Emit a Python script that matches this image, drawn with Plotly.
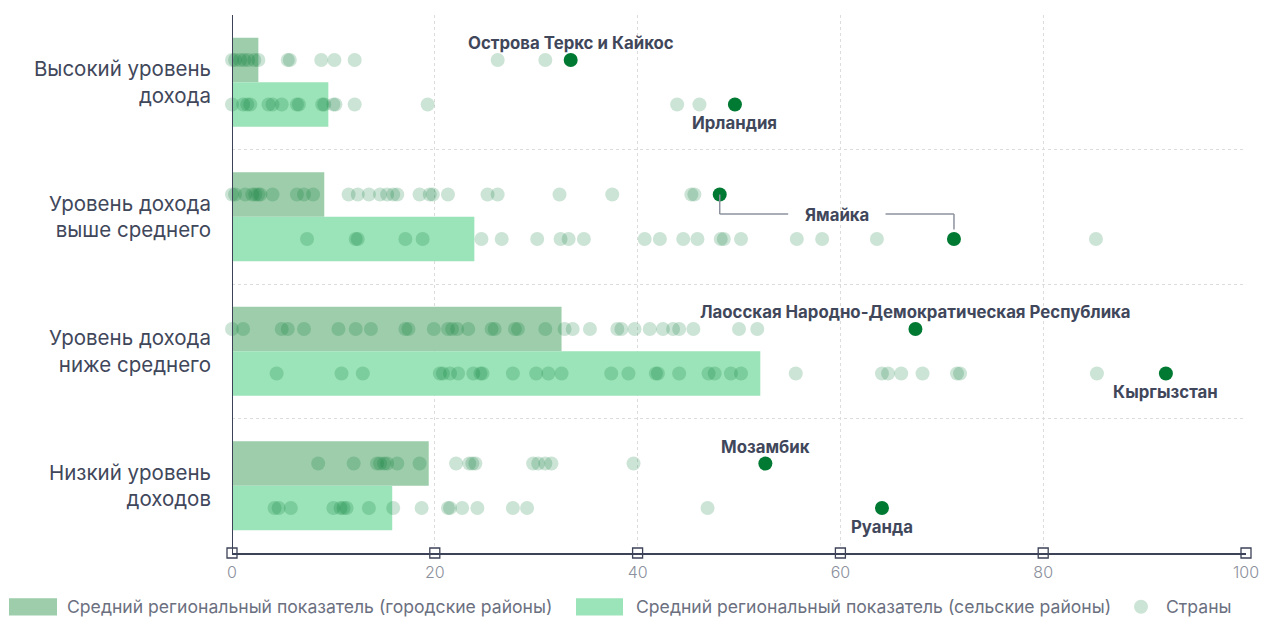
import plotly.graph_objects as go

# Income groups, top to bottom
categories = [
    "Высокий уровень<br>дохода",
    "Уровень дохода<br>выше среднего",
    "Уровень дохода<br>ниже среднего",
    "Низкий уровень<br>доходов",
]

# Regional averages, %
urban_avg = [2.6, 9.1, 32.5, 19.4]
rural_avg = [9.5, 23.9, 52.1, 15.8]

# Individual countries, %
high_urban = [0, 0.3, 0.8, 1.2, 1.6, 2.2, 2.6, 5.5, 5.7, 8.8, 10.1, 12.1, 26.2, 30.9]
high_rural = [0, 1.1, 1.5, 1.8, 3.6, 4.0, 4.9, 6.4, 6.6, 8.9, 9.1, 10.0, 10.2, 12.1, 19.3, 43.9, 46.1]
umc_urban = [0, 0.3, 1.3, 2.0, 2.3, 2.6, 2.8, 4.0, 6.4, 7.1, 8.0, 11.5, 12.4, 13.5, 14.6, 15.3,
             15.9, 16.3, 18.5, 19.5, 19.8, 21.3, 25.2, 26.2, 32.3, 37.5, 45.3, 45.6]
umc_rural = [7.4, 12.2, 12.4, 17.1, 18.8, 24.6, 26.6, 30.1, 32.4, 33.2, 34.7, 40.7, 42.2, 44.5,
             45.9, 48.2, 48.5, 50.2, 55.7, 58.2, 63.6, 85.2]
lmc_urban = [0, 1.1, 4.9, 5.5, 7.1, 10.5, 12.2, 13.7, 17.1, 17.4, 19.9, 21.3, 21.7, 22.2, 23.3,
             25.6, 25.9, 27.9, 28.2, 30.9, 32.8, 33.6, 35.3, 38.0, 38.4, 39.7, 41.2, 42.5, 43.5,
             44.1, 45.5, 50.0, 51.8]
lmc_rural = [4.4, 10.8, 12.9, 20.5, 20.8, 21.5, 22.3, 23.8, 24.5, 24.7, 27.7, 30.0, 31.2, 32.5,
             37.4, 39.1, 41.8, 42.0, 44.1, 47.0, 47.6, 49.2, 50.2, 55.6, 64.1, 64.7, 66.0, 68.1,
             71.5, 71.8, 85.3]
lic_urban = [8.5, 12.0, 14.3, 14.6, 15.0, 15.3, 16.3, 18.5, 22.1, 23.4, 23.7, 24.0, 29.7, 30.2,
             30.9, 31.5, 39.6]
lic_rural = [4.2, 4.6, 5.8, 10.0, 10.7, 11.0, 11.3, 13.5, 15.9, 18.7, 21.3, 21.5, 22.7, 24.2,
             27.7, 29.1, 46.9]

countries_urban = [high_urban, umc_urban, lmc_urban, lic_urban]
countries_rural = [high_rural, umc_rural, lmc_rural, lic_rural]

# Highlighted countries: name, group index, area, value
hl_names = ["Острова Теркс и Кайкос", "Ирландия", "Ямайка", "Ямайка",
            "Лаосская Народно-Демократическая Республика", "Кыргызстан", "Мозамбик", "Руанда"]
hl_group = [0, 0, 1, 1, 2, 2, 3, 3]
hl_area = ["urban", "rural", "urban", "rural", "urban", "rural", "urban", "rural"]
hl_values = [33.4, 49.6, 48.1, 71.2, 67.4, 92.1, 52.6, 64.1]

URBAN_C = "#9dcdab"
RURAL_C = "#9be3b8"
DOT_C = "rgba(0,122,51,0.2)"
HL_C = "#007a33"
DARK = "#3c4257"
TEXT = "#41475b"
FONT = "Inter"

OFF = 0.165   # half-distance between urban and rural rows within a group
BAR_W = 0.33

idx = list(range(len(categories)))
fig = go.Figure()

fig.add_trace(go.Bar(
    x=urban_avg, y=[i - OFF for i in idx], orientation="h", width=BAR_W,
    marker=dict(color=URBAN_C, line=dict(width=0)), showlegend=False, hoverinfo="x",
))
fig.add_trace(go.Bar(
    x=rural_avg, y=[i + OFF for i in idx], orientation="h", width=BAR_W,
    marker=dict(color=RURAL_C, line=dict(width=0)), showlegend=False, hoverinfo="x",
))

dx, dy = [], []
for i in idx:
    dx += countries_urban[i]
    dy += [i - OFF] * len(countries_urban[i])
    dx += countries_rural[i]
    dy += [i + OFF] * len(countries_rural[i])
fig.add_trace(go.Scatter(
    x=dx, y=dy, mode="markers", cliponaxis=False, showlegend=False,
    marker=dict(size=14, color=DOT_C, line=dict(width=0)),
))

hy = [g - OFF if a == "urban" else g + OFF for g, a in zip(hl_group, hl_area)]
fig.add_trace(go.Scatter(
    x=hl_values, y=hy, mode="markers", cliponaxis=False, showlegend=False,
    marker=dict(size=14, color=HL_C, line=dict(width=0)), text=hl_names, hoverinfo="text+x",
))

# Labels for highlighted countries (Jamaica gets a connector instead)
for n, v, y, a in zip(hl_names, hl_values, hy, hl_area):
    if n == "Ямайка":
        continue
    up = a == "urban"
    fig.add_annotation(x=v, y=y, text=f"<b>{n}</b>", showarrow=False,
                       yshift=17 if up else -19,
                       font=dict(family=FONT, size=16.8, color=TEXT))

jam = [v for n, v in zip(hl_names, hl_values) if n == "Ямайка"]
jam_mid = (jam[0] + jam[1]) / 2
gap = 4.8
fig.add_annotation(x=jam_mid, y=1, text="<b>Ямайка</b>", showarrow=False, yshift=2,
                   font=dict(family=FONT, size=16.8, color=TEXT))
line_style = dict(color="#8d929e", width=1.5)
fig.add_shape(type="line", x0=jam[0], x1=jam[0], y0=1 - OFF, y1=0.98, line=line_style)
fig.add_shape(type="line", x0=jam[0], x1=jam_mid - gap, y0=0.98, y1=0.98, line=line_style)
fig.add_shape(type="line", x0=jam_mid + gap, x1=jam[1], y0=0.98, y1=0.98, line=line_style)
fig.add_shape(type="line", x0=jam[1], x1=jam[1], y0=0.98, y1=1 + OFF - 0.07, line=line_style)

# Vertical axis line and x-axis tick squares
fig.add_shape(type="line", xref="x", yref="paper", x0=0, x1=0, y0=0, y1=1,
              line=dict(color=DARK, width=2), layer="above")
xticks = [0, 20, 40, 60, 80, 100]
fig.add_trace(go.Scatter(
    x=xticks, y=[3.5] * len(xticks), mode="markers", cliponaxis=False, showlegend=False,
    hoverinfo="skip",
    marker=dict(symbol="square", size=10, color="white", line=dict(color=DARK, width=1.3)),
))

# Custom legend along the bottom
ly = -0.1
def px_x(p):
    return (p - 232) / 1014
for x0, x1, col in [(9, 57, URBAN_C), (576, 623, RURAL_C)]:
    fig.add_shape(type="rect", xref="paper", yref="paper", x0=px_x(x0), x1=px_x(x1),
                  y0=ly - 0.016, y1=ly + 0.016, fillcolor=col, line=dict(width=0))
fig.add_shape(type="circle", xref="paper", yref="paper",
              x0=px_x(1134), x1=px_x(1148), y0=ly - 0.013, y1=ly + 0.013,
              fillcolor="#cce4d6", line=dict(width=0))
for xp, t in [(65, "Средний региональный показатель (городские районы)"),
              (634, "Средний региональный показатель (сельские районы)"),
              (1164, "Страны")]:
    fig.add_annotation(xref="paper", yref="paper", x=px_x(xp), y=ly, xanchor="left",
                       yanchor="middle", text=t, showarrow=False,
                       font=dict(family=FONT, size=17.6, color="#6b7080"))

fig.update_layout(
    width=1261, height=619,
    margin=dict(l=232, r=15, t=15, b=66),
    plot_bgcolor="white", paper_bgcolor="white",
    barmode="overlay",
    font=dict(family=FONT),
    xaxis=dict(
        range=[0, 100], tickvals=xticks, showgrid=True, gridcolor="#dcdcdc", griddash="dot",
        gridwidth=1, zeroline=False, showline=True, linecolor=DARK, linewidth=1.5,
        ticks="", ticklabelstandoff=4, automargin=False,
        tickfont=dict(family=FONT, size=16, color="#8b909c", weight=300),
    ),
    yaxis=dict(
        range=[3.5, -0.5], tickvals=idx, ticktext=categories, showgrid=False, zeroline=False,
        showline=False, ticks="", ticklabelstandoff=20, automargin=False,
        tickfont=dict(family=FONT, size=20.5, color=TEXT),
        minor=dict(tickvals=[-0.5, 0.5, 1.5, 2.5], showgrid=True, gridcolor="#dcdcdc",
                   griddash="dot", gridwidth=1),
    ),
)

fig.write_html("out.html")
